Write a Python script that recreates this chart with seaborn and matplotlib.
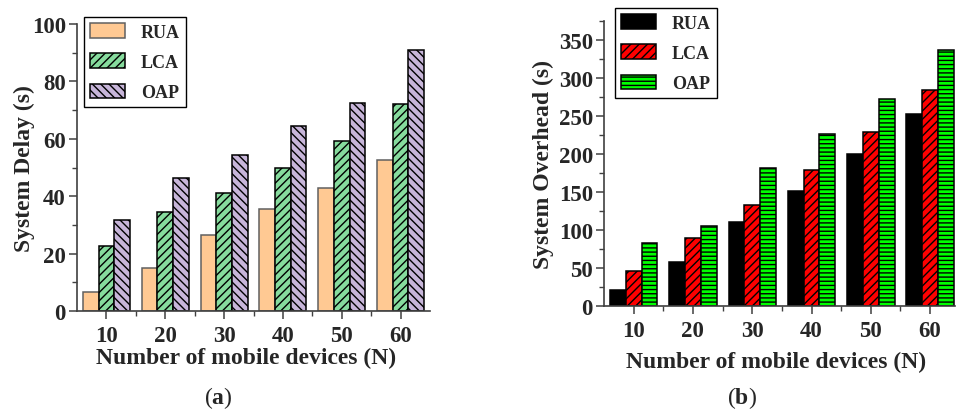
import numpy as np
import pandas as pd
import matplotlib
matplotlib.use("Agg")
import matplotlib.pyplot as plt
import seaborn as sns
from matplotlib.patches import Patch
from matplotlib.ticker import MultipleLocator

# ---- data ----
devices = ["10", "20", "30", "40", "50", "60"]
methods = ["RUA", "LCA", "OAP"]
delay_rua = [6.5, 15.0, 26.6, 35.5, 42.7, 52.7]
delay_lca = [22.8, 34.4, 41.0, 50.0, 59.1, 72.1]
delay_oap = [31.8, 46.3, 54.4, 64.4, 72.4, 91.0]
over_rua = [21.8, 58.0, 110.6, 151.3, 200.0, 252.4]
over_lca = [46.8, 89.6, 132.5, 179.3, 229.2, 283.9]
over_oap = [83.0, 105.4, 182.0, 225.6, 272.0, 336.8]

sns.set_style("ticks")
plt.rcParams["font.family"] = ["Liberation Serif", "DejaVu Serif"]
plt.rcParams["mathtext.fontset"] = "custom"
plt.rcParams["mathtext.rm"] = "Liberation Serif"
plt.rcParams["mathtext.bf"] = "Liberation Serif:bold"
plt.rcParams["hatch.linewidth"] = 1.0

def make_df(a, b, c):
    rows = []
    for m, vals in zip(methods, [a, b, c]):
        for d, v in zip(devices, vals):
            rows.append({"N": d, "method": m, "value": v})
    return pd.DataFrame(rows)

fig = plt.figure(figsize=(9.57, 4.14), dpi=100)
W, H = 957, 414
ax1 = fig.add_axes([77 / W, 1 - 312 / H, (430 - 77) / W, (312 - 25) / H])
ax2 = fig.add_axes([604 / W, 1 - 307.3 / H, (955 - 604) / W, (307.3 - 21.7) / H])

cfg = [
    (ax1, make_df(delay_rua, delay_lca, delay_oap),
     ["#FFC993", "#86DB9D", "#C7B5D9"], ["#606060", "black", "black"],
     ["", "////", "\\\\\\\\"], "System Delay (s)", (0, 100), 20, 10, 5.5,
     (84, 18), "(a)", 218, 1, -2, 0.479),
    (ax2, make_df(over_rua, over_lca, over_oap),
     ["#000000", "#FF0000", "#00FF00"], ["black", "black", "black"],
     ["", "////", "----"], "System Overhead (s)", (0, 375), 50, 25, 5.42,
     (615, 9), "(b)", 742, 7, 3, 0.49),
]

for (ax, df, cols, edges, hatches, ylab, ylim, major, minor, xr, lpos, cap,
     capx, xlpad, ylpad, xlx) in cfg:
    sns.barplot(data=df, x="N", y="value", hue="method", order=devices,
                hue_order=methods, palette=cols, width=0.8, ax=ax,
                saturation=1, linewidth=1.1, edgecolor="black", legend=False)
    for cont, ec, h in zip(ax.containers, edges, hatches):
        for bar in cont:
            bar.set_edgecolor(ec)
            bar.set_hatch(h)
    ax.set_xlim(-0.5, xr)
    ax.set_ylim(*ylim)
    ax.yaxis.set_major_locator(MultipleLocator(major))
    ax.yaxis.set_minor_locator(MultipleLocator(minor))
    ax.set_xticks(np.arange(0.5, 5.0, 1.0), minor=True)
    sns.despine(ax=ax)
    for s in ["left", "bottom"]:
        ax.spines[s].set_color("#404040")
        ax.spines[s].set_linewidth(1.2)
    ax.tick_params(axis="both", which="major", length=6, width=1.1,
                   color="#404040", labelsize=16.5)
    ax.tick_params(axis="both", which="minor", length=3.5, width=1.0,
                   color="#404040")
    ax.tick_params(axis="x", which="major", pad=4)
    ax.tick_params(axis="y", which="major", pad=2)
    for lab in ax.get_xticklabels() + ax.get_yticklabels():
        lab.set_fontweight("bold")
    ax.set_xlabel("Number of mobile devices (N)", fontsize=17,
                  fontweight="bold", labelpad=xlpad)
    ax.xaxis.label.set_x(xlx)
    ax.set_ylabel(ylab, fontsize=17, fontweight="bold", labelpad=ylpad)
    handles = [Patch(facecolor=c, edgecolor=e, hatch=h, linewidth=1.1)
               for c, e, h in zip(cols, edges, hatches)]
    leg = ax.legend(handles, methods, loc="upper left",
                    bbox_to_anchor=(lpos[0] / W, 1 - lpos[1] / H),
                    bbox_transform=fig.transFigure, borderaxespad=0,
                    fancybox=False, framealpha=1, edgecolor="black",
                    prop={"weight": "bold", "size": 13},
                    handlelength=1.9, handleheight=0.85, handletextpad=0.9,
                    labelspacing=0.7, borderpad=0.35)
    leg.get_frame().set_linewidth(1.0)
    fig.text(capx / W, 1 - 398 / H, cap[0] + r"$\mathbf{" + cap[1] + "}$" + cap[2],
             ha="center", va="center", fontsize=17)

fig.savefig("out.png", dpi=100)
